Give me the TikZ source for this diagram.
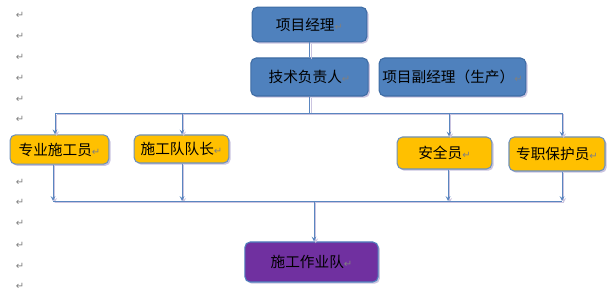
\documentclass[tikz,border=0pt]{standalone}
\usepackage{fontspec}
\usetikzlibrary{shadows}
\newfontfamily\cjk{Noto Sans CJK SC}
\newfontfamily\symb{DejaVu Sans}
\definecolor{boxblue}{HTML}{4F81BD}
\definecolor{edgeblue}{HTML}{3E6CA4}
\definecolor{linkblue}{HTML}{5A86C0}
\definecolor{boxgold}{HTML}{FFC000}
\definecolor{boxpurple}{HTML}{7030A0}
\definecolor{linelav}{HTML}{CBC4E0}
\newcommand{\pmark}{{\symb\fontsize{7.5pt}{7.5pt}\selectfont\textcolor{gray}{↵}}}

\begin{document}
\begin{tikzpicture}[x=0.75pt, y=-0.75pt, >=stealth,
    box/.style={rounded corners=4pt, inner sep=0pt, line width=0.8pt,
        font=\cjk\fontsize{11pt}{13pt}\selectfont,
        drop shadow={shadow xshift=1.3pt, shadow yshift=-1.3pt, fill=linelav, opacity=1}},
    bluebox/.style={box, fill=boxblue, draw=edgeblue},
    goldbox/.style={box, fill=boxgold, draw=edgeblue!75},
    purplebox/.style={box, fill=boxpurple, draw=boxblue},
    link/.style={draw=linkblue, line width=0.6pt,
        preaction={draw=linelav, line width=0.6pt, transform canvas={shift={(1.3pt,-1.3pt)}}}},
    parmark/.style={inner sep=0pt}]
    \useasboundingbox (0,0) rectangle (613,291);

    % paragraph marks down the left margin
    \foreach \y [count=\i] in {15,36,57,78,99,119,182,202,223,245,266,286}
        \node[parmark] (mark\i) at (20,\y) {\pmark};

    % managers
    \node[bluebox, minimum width=86pt, minimum height=26pt] (pm) at (309.5,24.5) {项目经理\pmark};
    \node[bluebox, minimum width=88pt, minimum height=28.5pt] (tech) at (309.5,77) {技术负责人\pmark};
    \node[bluebox, minimum width=110pt, minimum height=28.5pt] (vpm) at (452.5,77) {项目副经理（生产）\pmark};

    % staff row
    \node[goldbox, minimum width=74pt, minimum height=22pt] (spec) at (59.5,149.5) {专业施工员\pmark};
    \node[goldbox, minimum width=71pt, minimum height=21pt] (lead) at (181.5,149) {施工队队长\pmark};
    \node[goldbox, minimum width=71pt, minimum height=24pt] (safe) at (444.5,153) {安全员\pmark};
    \node[goldbox, minimum width=72pt, minimum height=25.5pt] (prot) at (557,154) {专职保护员\pmark};

    % team
    \node[purplebox, minimum width=100pt, minimum height=30pt] (team) at (311.5,262) {施工作业队\pmark};

    % junctions on the two bars
    \coordinate (t1) at (55,113);
    \coordinate (t2) at (182,113);
    \coordinate (t3) at (449,113);
    \coordinate (t4) at (562,113);
    \coordinate (b1) at (53,201);
    \coordinate (b2) at (182,201);
    \coordinate (b3) at (448,201);
    \coordinate (b4) at (562,201);
    \coordinate (b0) at (314,201);

    \draw[link] (pm) -- (tech);
    \draw[link] (tech.south) -- (tech.south |- t1);
    \draw[link] (t1) -- (t4);
    \draw[link,->] (t1) -- (t1 |- spec.north);
    \draw[link,->] (t2) -- (t2 |- lead.north);
    \draw[link,->] (t3) -- (t3 |- safe.north);
    \draw[link,->] (t4) -- (t4 |- prot.north);

    \draw[link,->] (spec.south -| b1) -- (b1);
    \draw[link,->] (lead.south -| b2) -- (b2);
    \draw[link,->] (safe.south -| b3) -- (b3);
    \draw[link,->] (prot.south -| b4) -- (b4);
    \draw[link] (b1) -- (b4);
    \draw[link,->] (b0) -- (b0 |- team.north);
\end{tikzpicture}
\end{document}
